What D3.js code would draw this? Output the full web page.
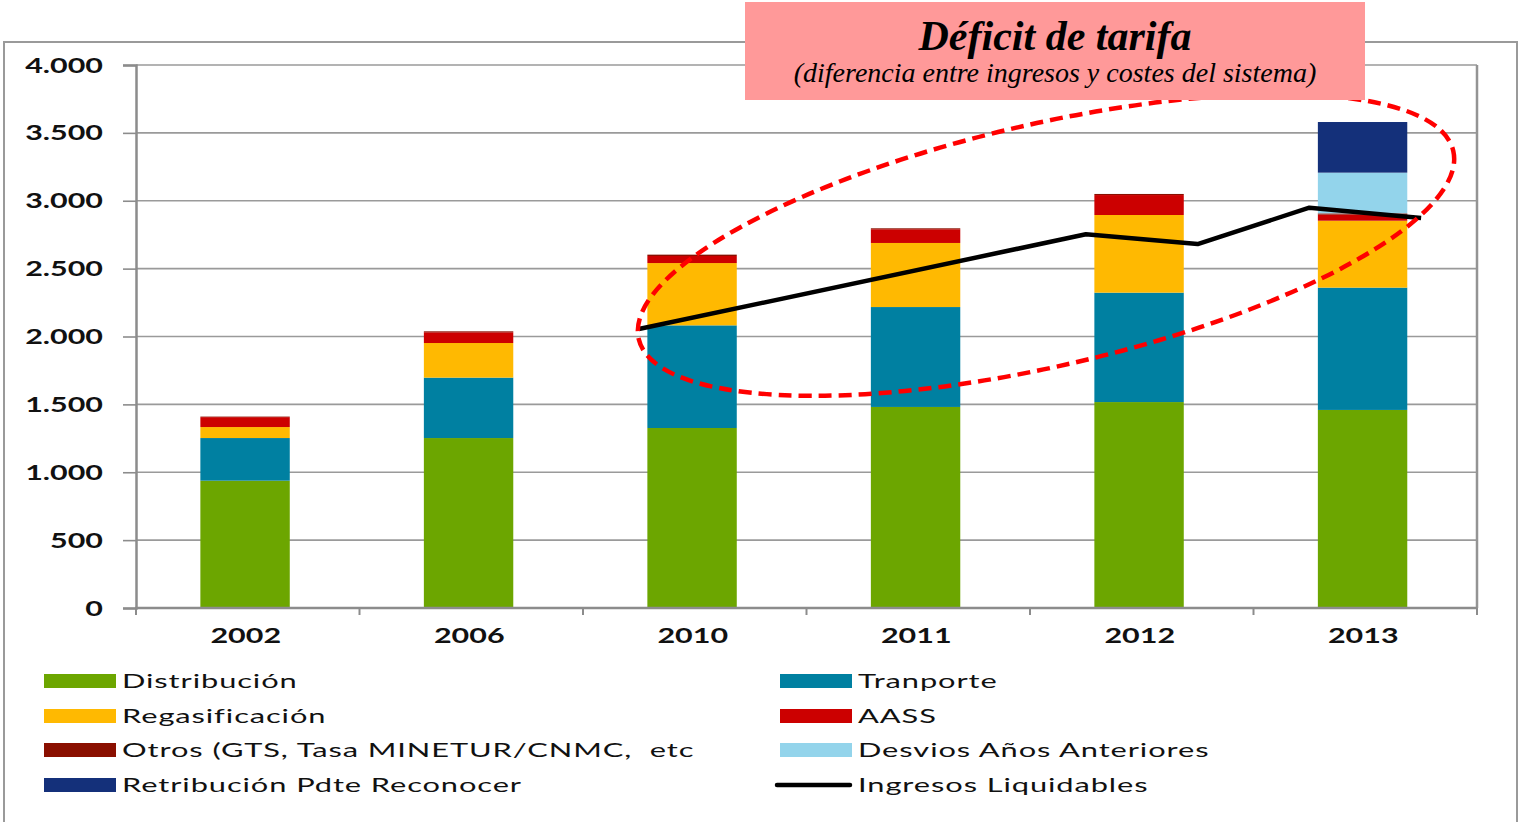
<!DOCTYPE html>
<html><head><meta charset="utf-8">
<script src="https://cdn.jsdelivr.net/npm/d3@7"></script>
<style>html,body{margin:0;padding:0;background:#fff;overflow:hidden}</style>
</head><body>
<svg id="chart" width="1519" height="822"></svg>
<script>
const years = ["2002","2006","2010","2011","2012","2013"];
const distribucion = [938, 1252, 1326, 1481, 1517, 1459];
const tranporte    = [314, 445, 756, 736, 806, 901];
const regasificacion = [81, 255, 459, 472, 572, 493];
const aass   = [73, 79, 52, 101, 147, 45];
const otros  = [4, 7, 10, 7, 8, 9];
const desvios = [0, 0, 0, 0, 0, 300];
const retribucion = [0, 0, 0, 0, 0, 373];
const seriesNames = ["Distribución","Tranporte","Regasificación","AASS","Otros (GTS, Tasa MINETUR/CNMC,  etc","Desvios Años Anteriores","Retribución Pdte Reconocer"];
const seriesColors = ["#6CA600","#0080A1","#FFB901","#CC0000","#8A0F00","#93D4EB","#14307A"];
// Ingresos Liquidables: drawn on a secondary axis with 12 half-year slots
const lineSlots = [4, 8, 9, 10, 11];
const ingresos = [2055, 2753, 2681, 2949, 2873];
const yTicks = [0,500,1000,1500,2000,2500,3000,3500,4000];
const yTickLabels = ["0","500","1.000","1.500","2.000","2.500","3.000","3.500","4.000"];
const titleText = "Déficit de tarifa";
const subtitleText = "(diferencia entre ingresos y costes del sistema)";

const svg = d3.select("#chart");
const L = 136, R = 1477, T = 65, B = 608;
const x = d3.scaleBand().domain(years).range([L, R]).paddingInner(0.6).paddingOuter(0.3).align(0.48);
const bx = d3.scaleBand().domain(years).range([L, R]);
const xSlots = d3.scaleBand().domain(d3.range(12)).range([L, R]);
const y = d3.scaleLinear().domain([0, 4000]).range([B, T]);

// outer border
svg.append("rect").attr("x",4).attr("y",42).attr("width",1513).attr("height",800)
  .attr("fill","none").attr("stroke","#9a9a9a").attr("stroke-width",2);

// gridlines
svg.append("g").selectAll("line").data(yTicks.slice(1)).join("line")
  .attr("x1",L).attr("x2",R).attr("y1",d=>y(d)).attr("y2",d=>y(d))
  .attr("stroke","#9a9a9a").attr("stroke-width",1.6);
// right border of plot area
svg.append("line").attr("x1",R).attr("x2",R).attr("y1",T).attr("y2",B).attr("stroke","#949494").attr("stroke-width",2.5);

// stacked bars
const rows = years.map((yr,i)=>({year:yr, s0:distribucion[i], s1:tranporte[i], s2:regasificacion[i], s3:aass[i], s4:otros[i], s5:desvios[i], s6:retribucion[i]}));
const stack = d3.stack().keys(["s0","s1","s2","s3","s4","s5","s6"])(rows);
svg.append("g").selectAll("g").data(stack).join("g")
  .attr("fill",(d,i)=>seriesColors[i])
  .selectAll("rect").data(d=>d).join("rect")
  .attr("x",d=>x(d.data.year)).attr("width",x.bandwidth())
  .attr("y",d=>y(d[1])).attr("height",d=>Math.max(0,y(d[0])-y(d[1])));

// axes
const yAxis = svg.append("g").attr("transform",`translate(${L},0)`)
  .call(d3.axisLeft(y).tickValues(yTicks).tickFormat((d,i)=>yTickLabels[i]).tickSize(13).tickPadding(20));
yAxis.select(".domain").attr("stroke","#8c8c8c").attr("stroke-width",2.5);
yAxis.selectAll(".tick line").attr("stroke","#8c8c8c").attr("stroke-width",1.6);
yAxis.selectAll(".tick text").each(function(){
  const t=d3.select(this); const tx=-(13+20);
  t.attr("x",null).attr("dy",null).attr("y",7)
   .attr("transform",`translate(${tx},0) scale(1.45,1)`)
   .attr("font-family","Lato").attr("font-weight",700).attr("font-size",21).attr("fill","#111").attr("text-anchor","end");
});

const bounds = years.map(d=>bx(d)).concat([R]);
const xAxisG = svg.append("g");
xAxisG.append("line").attr("x1",L-1).attr("x2",R).attr("y1",B).attr("y2",B).attr("stroke","#8c8c8c").attr("stroke-width",2.5);
xAxisG.selectAll("line.tk").data(bounds).join("line").attr("class","tk")
  .attr("x1",d=>d).attr("x2",d=>d).attr("y1",B).attr("y2",B+7).attr("stroke","#8c8c8c").attr("stroke-width",2);
xAxisG.selectAll("text").data(years).join("text")
  .attr("transform",d=>`translate(${bx(d)+bx.bandwidth()/2-2},643) scale(1.45,1)`)
  .attr("text-anchor","middle").attr("font-family","Lato").attr("font-weight",700).attr("font-size",21).attr("fill","#111")
  .text(d=>d);

// line
const line = d3.line().x((d,i)=>xSlots(lineSlots[i])+xSlots.bandwidth()/2).y(d=>y(d));
svg.append("path").datum(ingresos).attr("d",line).attr("fill","none").attr("stroke","#000").attr("stroke-width",4.5).attr("stroke-linejoin","round");

// highlight ellipse
svg.append("ellipse").attr("cx",1046).attr("cy",245).attr("rx",418).attr("ry",121)
  .attr("transform","rotate(-13,1046,245)")
  .attr("fill","none").attr("stroke","#FF0000").attr("stroke-width",4.5).attr("stroke-dasharray","13,7");

// title box
svg.append("rect").attr("x",745).attr("y",2).attr("width",620).attr("height",98).attr("fill","#FF9999");
svg.append("text").attr("x",1055).attr("y",50).attr("text-anchor","middle")
  .attr("font-family","Liberation Serif").attr("font-style","italic").attr("font-weight",700).attr("font-size",42).attr("fill","#000")
  .text(titleText);
svg.append("text").attr("x",1055).attr("y",82).attr("text-anchor","middle")
  .attr("font-family","Liberation Serif").attr("font-style","italic").attr("font-size",28).attr("fill","#000")
  .text(subtitleText);

// legend
const legendItems = [
  {name:seriesNames[0], color:seriesColors[0], col:0, row:0, type:"rect"},
  {name:seriesNames[1], color:seriesColors[1], col:1, row:0, type:"rect"},
  {name:seriesNames[2], color:seriesColors[2], col:0, row:1, type:"rect"},
  {name:seriesNames[3], color:seriesColors[3], col:1, row:1, type:"rect"},
  {name:seriesNames[4], color:seriesColors[4], col:0, row:2, type:"rect"},
  {name:seriesNames[5], color:seriesColors[5], col:1, row:2, type:"rect"},
  {name:seriesNames[6], color:seriesColors[6], col:0, row:3, type:"rect"},
  {name:"Ingresos Liquidables", color:"#000", col:1, row:3, type:"line"}
];
const colX = [44, 780], rowY = [681, 716, 750, 785];
const lg = svg.append("g").selectAll("g").data(legendItems).join("g")
  .attr("transform",d=>`translate(${colX[d.col]},${rowY[d.row]})`);
lg.filter(d=>d.type==="rect").append("rect").attr("x",0).attr("y",-7).attr("width",72).attr("height",14).attr("fill",d=>d.color);
lg.filter(d=>d.type==="line").append("line").attr("x1",-3).attr("x2",70).attr("y1",0).attr("y2",0).attr("stroke","#000").attr("stroke-width",4.5).attr("stroke-linecap","round");
lg.append("text").attr("transform","translate(78,7) scale(1.54,1)").style("white-space","pre")
  .attr("font-family","Lato").attr("font-size",20).attr("letter-spacing",0.6).attr("fill","#111").text(d=>d.name);
</script>
</body></html>
